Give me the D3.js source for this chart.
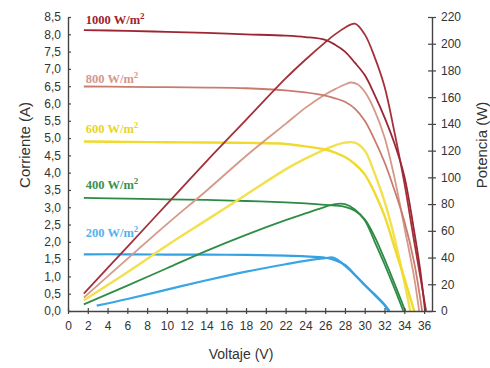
<!DOCTYPE html>
<html>
<head>
<meta charset="utf-8">
<script src="https://cdn.jsdelivr.net/npm/d3@7/dist/d3.min.js"></script>
<style>
  body { margin: 0; background: #fff; }
  svg { display: block; font-family: "Liberation Sans", Arial, sans-serif; }
</style>
</head>
<body>
<svg id="chart" width="490" height="368"></svg>
<script>
// irradiance levels (W/m2)
const irradiance = [1000, 800, 600, 400, 200];

// I-V curves: voltage (V) and current (A)
const voltsI1000 = [1.6, 6, 10, 14, 18, 22, 24, 26, 27, 28, 29, 30, 31, 32, 33, 34, 35, 35.6, 36.1];
const amps1000   = [8.12, 8.1, 8.07, 8.04, 8.0, 7.96, 7.92, 7.84, 7.7, 7.5, 7.18, 6.82, 6.25, 5.6, 4.85, 3.9, 2.3, 1.2, 0];
const voltsI800  = [1.6, 6, 10, 14, 18, 22, 24, 26, 27, 28, 29, 30, 31, 32, 33, 34, 35, 35.8];
const amps800    = [6.49, 6.48, 6.47, 6.46, 6.44, 6.38, 6.32, 6.23, 6.15, 6.05, 5.85, 5.5, 4.95, 4.3, 3.5, 2.6, 1.4, 0];
const voltsI600  = [1.6, 6, 10, 14, 18, 22, 24, 26, 27, 28, 29, 30, 31, 32, 33, 34, 35];
const amps600    = [4.9, 4.89, 4.88, 4.87, 4.86, 4.83, 4.76, 4.67, 4.58, 4.45, 4.25, 3.95, 3.42, 2.75, 1.85, 0.95, 0];
const voltsI400  = [1.6, 6, 10, 14, 18, 22, 24, 26, 27, 28, 29, 30, 31, 32, 33, 34.1];
const amps400    = [3.27, 3.25, 3.23, 3.21, 3.18, 3.14, 3.11, 3.07, 3.05, 3.01, 2.9, 2.65, 2.15, 1.5, 0.8, 0];
const voltsI200  = [1.6, 6, 10, 14, 18, 22, 24, 26, 27, 28, 29, 30, 31, 32, 32.5];
const amps200    = [1.64, 1.64, 1.63, 1.63, 1.62, 1.6, 1.58, 1.54, 1.47, 1.33, 1.05, 0.75, 0.48, 0.18, 0];

// P-V curves: voltage (V) and power (W)
const voltsP1000 = [1.6, 6, 10, 14, 18, 22, 24, 26, 27, 28, 29, 30, 31, 32, 33, 34, 35, 35.7, 36.2];
const watts1000  = [13, 48, 80, 112, 143, 174, 188, 201, 207, 212, 215, 207, 190, 168, 134, 96, 52, 22, 0];
const voltsP800  = [1.6, 6, 10, 14, 18, 22, 24, 26, 27, 28, 28.6, 29.3, 30, 31, 32, 33, 34, 35, 35.5];
const watts800   = [10, 39, 65, 90, 116, 140, 152, 162, 166, 169.5, 171, 169.5, 164, 150, 130, 100, 63, 25, 0];
const voltsP600  = [1.6, 6, 10, 14, 18, 22, 24, 26, 27, 28, 29, 30, 31, 32, 33, 34, 34.6];
const watts600   = [8, 29, 49, 68, 87, 106, 114, 121, 124, 126, 126, 120, 103, 82, 55, 22, 0];
const voltsP400  = [1.6, 6, 10, 14, 18, 22, 24, 26, 27, 28, 29, 30, 31, 32, 33, 33.9];
const watts400   = [5, 19, 32, 45, 57, 68, 73, 78, 80, 80, 76, 68, 52, 35, 17, 0];
const voltsP200  = [2.9, 6, 10, 14, 18, 22, 24, 26, 26.8, 28, 29, 30, 31, 32, 32.4];
const watts200   = [4, 9, 16, 23, 29.5, 35, 37.5, 39.5, 40, 34, 27, 19.5, 12, 4.5, 0];

const xTicks = d3.range(0, 37, 2);
const yTicksI = d3.range(0, 8.51, 0.5);
const yTicksP = d3.range(0, 221, 20);

// styles per irradiance
const colorsI = ["#9c2633", "#c97c6e", "#f0da2e", "#2c8a44", "#34a2e2"];
const colorsP = ["#a4303a", "#d69888", "#f2e04e", "#2f8d47", "#3aa6e4"];
const labelColors = ["#a0232d", "#d7978a", "#e8d526", "#3b9150", "#56b3ea"];
const lineWidths = [1.8, 1.8, 2.4, 1.8, 2.2];
const labelLift = [6, 4, 9, 9, 17];

const seriesTable = irradiance.map((g, i) => ({
  g: g,
  iv: d3.zip([voltsI1000, voltsI800, voltsI600, voltsI400, voltsI200][i], [amps1000, amps800, amps600, amps400, amps200][i]),
  pv: d3.zip([voltsP1000, voltsP800, voltsP600, voltsP400, voltsP200][i], [watts1000, watts800, watts600, watts400, watts200][i])
}));

const svg = d3.select("#chart");
const plotLeft = 68, plotRight = 432, plotTop = 17, plotBottom = 311;

const x = d3.scaleLinear().domain([0, 36.8]).range([plotLeft, plotRight]);
const yI = d3.scaleLinear().domain([0, 8.5]).range([plotBottom, plotTop]);
const yP = d3.scaleLinear().domain([0, 220]).range([plotBottom, plotTop]);

const comma = d => d.toFixed(1).replace(".", ",");

// curves
const smooth = d3.curveCatmullRom.alpha(0.5);
const lineI = d3.line().curve(smooth).x(d => x(d[0])).y(d => yI(d[1]));
const lineP = d3.line().curve(smooth).x(d => x(d[0])).y(d => yP(d[1]));

const curves = svg.append("g");
seriesTable.slice().reverse().forEach((s) => {
  const i = irradiance.indexOf(s.g);
  curves.append("path").datum(s.pv)
    .attr("d", lineP).attr("fill", "none")
    .attr("stroke", colorsP[i]).attr("stroke-width", lineWidths[i]);
  curves.append("path").datum(s.iv)
    .attr("d", lineI).attr("fill", "none")
    .attr("stroke", colorsI[i]).attr("stroke-width", lineWidths[i]);
});

// irradiance labels
seriesTable.forEach((s, i) => {
  const t = svg.append("text")
    .attr("x", x(1.8))
    .attr("y", yI(s.iv[0][1]) - labelLift[i])
    .attr("fill", labelColors[i])
    .style("font-family", "'Liberation Serif', 'DejaVu Serif', serif")
    .style("font-weight", "bold")
    .style("font-size", "12.5px")
    .text(s.g + " W/m");
  t.append("tspan").attr("dy", -5).style("font-size", "9px").text("2");
});

// axes
const axisColor = "#444";
const gx = svg.append("g").attr("transform", `translate(0,${plotBottom})`)
  .call(d3.axisBottom(x).tickValues(xTicks).tickSize(3).tickSizeOuter(0).tickPadding(7).tickFormat(d3.format("d")));
gx.selectAll(".tick line").attr("y1", -3);

const gl = svg.append("g").attr("transform", `translate(${plotLeft},0)`)
  .call(d3.axisLeft(yI).tickValues(yTicksI).tickSizeInner(-3).tickSizeOuter(0).tickPadding(7).tickFormat(comma));

const gr = svg.append("g").attr("transform", `translate(${plotRight},0)`)
  .call(d3.axisRight(yP).tickValues(yTicksP).tickSize(4).tickSizeOuter(0).tickPadding(5).tickFormat(d3.format("d")));
gr.selectAll(".tick line").attr("x1", -4);

[gx, gl, gr].forEach(g => {
  g.select(".domain").attr("stroke", axisColor).attr("stroke-width", 1.4);
  g.selectAll(".tick line").attr("stroke", axisColor).attr("stroke-width", 1.2);
  g.selectAll(".tick text").attr("fill", "#333").style("font-size", "12px")
    .style("font-family", "'Liberation Sans', Arial, sans-serif");
});

// axis titles
svg.append("text").attr("x", 241).attr("y", 359).attr("text-anchor", "middle")
  .attr("fill", "#333").style("font-size", "14px").text("Voltaje (V)");
svg.append("text").attr("transform", "translate(30,145) rotate(-90)").attr("text-anchor", "middle")
  .attr("fill", "#333").style("font-size", "15px").text("Corriente  (A)");
svg.append("text").attr("transform", "translate(487,145) rotate(-90)").attr("text-anchor", "middle")
  .attr("fill", "#333").style("font-size", "15px").text("Potencia (W)");
</script>
</body>
</html>
